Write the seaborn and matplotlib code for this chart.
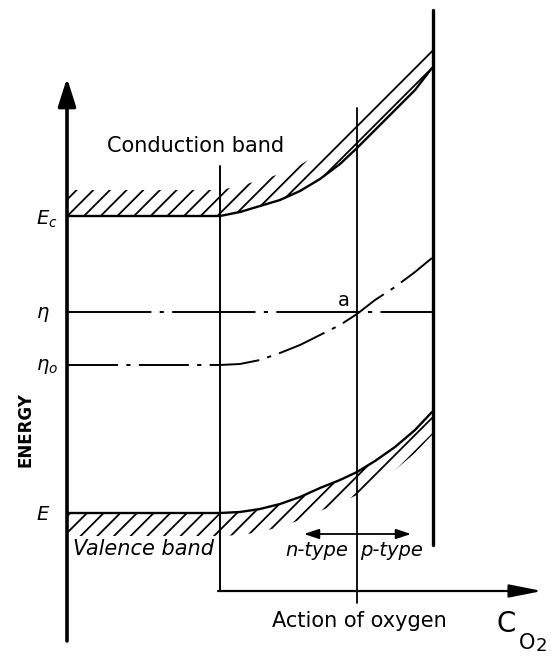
import numpy as np
import pandas as pd
import matplotlib
matplotlib.use("Agg")
import matplotlib.pyplot as plt
import seaborn as sns

# band diagram, values in pixel units (y grows downward)
band_x = [68, 220, 240, 260, 280, 300, 320, 340, 357, 375, 395, 415, 432]
cond_y = [216, 216, 212, 206, 200, 191, 179, 164, 148, 130, 110, 90, 68]
fermi0_y = [365, 365, 364, 360, 353, 345, 335, 325, 314, 300, 287, 272, 258]
val_y = [513, 513, 512, 509, 504, 497, 488, 480, 472, 461, 447, 430, 412]

fermi_x = [68, 433]
fermi_y = [312, 312]

# vertical guide lines: x, top, bottom, width
guide_x = [220, 357, 433]
guide_top = [166, 108, 10]
guide_bottom = [591, 603, 545]
guide_lw = [1.4, 1.3, 2.4]

left_labels = [r"$E_c$", r"$\eta$", r"$\eta_o$", r"$E$"]
left_label_y = [219, 315, 367, 514]

sns.set_theme(style="white")
plt.rcParams["font.family"] = ["DejaVu Sans"]
plt.rcParams["text.color"] = "black"
plt.rcParams["mathtext.fontset"] = "dejavusans"
plt.rcParams["hatch.linewidth"] = 1.3
plt.rcParams["lines.scale_dashes"] = False

fig = plt.figure(figsize=(5.51, 6.64), dpi=100)
ax = fig.add_axes([0, 0, 1, 1])
ax.set_xlim(0, 551)
ax.set_ylim(664, 0)
ax.axis("off")

df = pd.DataFrame({"x": band_x, "cond": cond_y, "fermi0": fermi0_y, "val": val_y})

# hatched band edges
ax.fill_between(df["x"], df["cond"] - 26, df["cond"], facecolor="none",
                edgecolor="black", linewidth=0, hatch="//")
ax.fill_between(df["x"], df["val"], df["val"] + 23, facecolor="none",
                edgecolor="black", linewidth=0, hatch="//")

sns.lineplot(data=df, x="x", y="cond", sort=False, color="black", lw=1.7, ax=ax)
sns.lineplot(data=df, x="x", y="val", sort=False, color="black", lw=1.7, ax=ax)
sns.lineplot(data=df, x="x", y="fermi0", sort=False, color="black", lw=1.4,
             ls=(0, (36, 6, 3, 6)), ax=ax)
sns.lineplot(x=fermi_x, y=fermi_y, sort=False, color="black", lw=1.4,
             ls=(0, (60, 6, 3, 6)), ax=ax)

for gx, gt, gb, lw in zip(guide_x, guide_top, guide_bottom, guide_lw):
    ax.plot([gx, gx], [gt, gb], color="black", lw=lw)

# axes arrows
ax.annotate("", xy=(67, 78), xytext=(67, 641),
            arrowprops=dict(arrowstyle="-|>,head_length=0.85,head_width=0.27",
                            mutation_scale=20, lw=2.6, color="black",
                            shrinkA=0, shrinkB=0))
ax.annotate("", xy=(542, 591), xytext=(218, 591),
            arrowprops=dict(arrowstyle="-|>,head_length=1.0,head_width=0.2",
                            mutation_scale=20, lw=1.6, color="black",
                            shrinkA=0, shrinkB=0))
ax.annotate("", xy=(411, 534), xytext=(304, 534),
            arrowprops=dict(arrowstyle="<|-|>,head_length=0.9,head_width=0.3",
                            mutation_scale=10, lw=1.3, color="black",
                            shrinkA=0, shrinkB=0))

for lab, ly in zip(left_labels, left_label_y):
    ax.text(36, ly, lab, fontsize=14, ha="left", va="center")

ax.text(107, 146, "Conduction band", fontsize=15, ha="left", va="center")
ax.text(73, 549, "Valence band", fontsize=15, style="italic", ha="left", va="center")
ax.text(285, 550, "n-type", fontsize=14, style="italic", ha="left", va="center")
ax.text(360, 550, "p-type", fontsize=14, style="italic", ha="left", va="center")
ax.text(344, 300, "a", fontsize=14, ha="center", va="center")
ax.text(272, 621, "Action of oxygen", fontsize=15, ha="left", va="center")
ax.text(496, 624, "C", fontsize=20, ha="left", va="center")
ax.text(519, 643, "O", fontsize=15, ha="left", va="center")
ax.text(536, 646, "2", fontsize=13, ha="left", va="center")
ax.text(25, 430, "ENERGY", fontsize=12, fontweight="bold", rotation=90,
        ha="center", va="center")

fig.savefig("out.png", dpi=100)
